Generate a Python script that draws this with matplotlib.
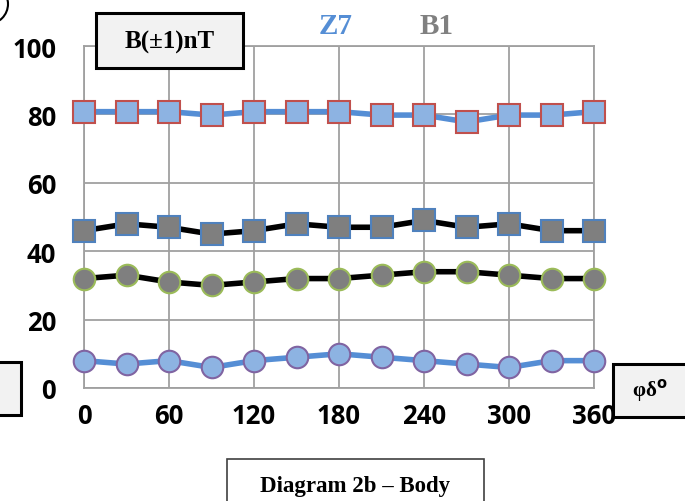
import matplotlib
matplotlib.use("Agg")
import matplotlib.pyplot as plt
from matplotlib.patches import Rectangle, Arc

phi = [0, 30, 60, 90, 120, 150, 180, 210, 240, 270, 300, 330, 360]
s_top = [80.8, 80.8, 80.8, 79.8, 80.8, 80.8, 80.8, 79.8, 79.8, 77.8, 79.8, 79.8, 80.8]
s_sq = [46, 48, 47, 45, 46, 48, 47, 47, 49, 47, 48, 46, 46]
s_circ = [32, 33, 31, 30, 31, 32, 32, 33, 34, 34, 33, 32, 32]
s_low = [8, 7, 8, 6, 8, 9, 10, 9, 8, 7, 6, 8, 8]
xticks = [0, 60, 120, 180, 240, 300, 360]
yticks = [0, 20, 40, 60, 80, 100]

W, H = 685, 502
fig = plt.figure(figsize=(W / 100, H / 100), dpi=100)
ax = fig.add_axes([84 / W, 1 - 389 / H, (594 - 84) / W, (389 - 47) / H])

grid_c = "#a0a0a0"
ms = 15.5
ax.plot(phi, s_top, color="#558ed5", lw=4, marker="s", ms=ms, mfc="#8db3e2",
        mec="#c0504d", mew=1.5, zorder=3, clip_on=False)
ax.plot(phi, s_sq, color="black", lw=4, marker="s", ms=ms, mfc="#7f7f7f",
        mec="#4f81bd", mew=1.5, zorder=3, clip_on=False)
ax.plot(phi, s_circ, color="black", lw=4, marker="o", ms=ms, mfc="#7f7f7f",
        mec="#9bbb59", mew=1.5, zorder=3, clip_on=False)
ax.plot(phi, s_low, color="#558ed5", lw=4, marker="o", ms=ms, mfc="#8db3e2",
        mec="#8064a2", mew=1.5, zorder=3, clip_on=False)

ax.set_xlim(0, 360)
ax.set_ylim(0, 100)
ax.set_xticks(xticks)
ax.set_yticks(yticks)
ax.grid(True, color=grid_c, lw=1.3)
ax.set_axisbelow(True)
for sp in ax.spines.values():
    sp.set_color(grid_c)
    sp.set_linewidth(1.3)
ax.tick_params(length=0)
for lab in ax.get_xticklabels() + ax.get_yticklabels():
    lab.set_fontfamily("Open Sans")
    lab.set_fontweight("bold")
    lab.set_fontsize(18.5)
ax.tick_params(axis="y", pad=20)
ax.tick_params(axis="x", pad=10)

def box(x0, y0, x1, y1, fc="#f2f2f2", lw=2.2, ec="black"):
    r = Rectangle((x0 / W, 1 - y1 / H), (x1 - x0) / W, (y1 - y0) / H,
                  transform=fig.transFigure, fc=fc, ec=ec, lw=lw, zorder=10)
    fig.add_artist(r)

box(96, 14, 243, 69)
fig.text((96 + 243) / 2 / W, 1 - 42 / H, "B(±1)nT", ha="center", va="center",
         family="Liberation Serif", weight="bold", fontsize=18, zorder=11)
box(-5, 363, 21, 416)
box(613, 365, 690, 418)
fig.text(650 / W, 1 - 391 / H, "φδ$^{\\mathbf{o}}$", ha="center", va="center",
         family="Liberation Serif", weight="bold", fontsize=15, zorder=11)
box(227, 460, 484, 510, fc="white", lw=1.2, ec="#404040")
fig.text((227 + 484) / 2 / W, 1 - 487 / H, "Diagram 2b – Body", ha="center",
         va="center", family="Liberation Serif", weight="bold", fontsize=16.5,
         zorder=11)
fig.text(336 / W, 1 - 27 / H, "Z7", ha="center", va="center", color="#558ed5",
         family="Liberation Serif", weight="bold", fontsize=21)
fig.text(437 / W, 1 - 27 / H, "B1", ha="center", va="center", color="#808080",
         family="Liberation Serif", weight="bold", fontsize=21)

arc = Arc((-12 / W, 1 - 5 / H), 40 / W, 40 / H, theta1=-90, theta2=90,
          transform=fig.transFigure, color="black", lw=1.5)
fig.add_artist(arc)

fig.savefig("out.png", dpi=100)
